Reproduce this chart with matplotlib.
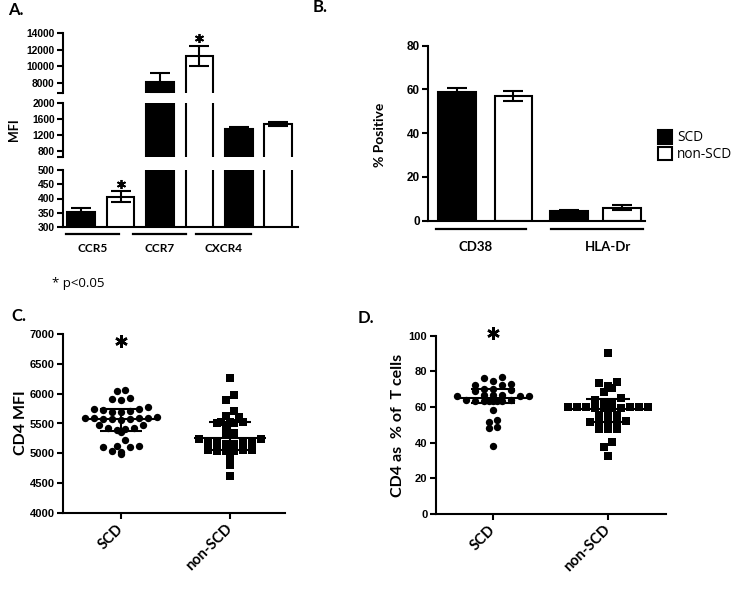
import numpy as np
import matplotlib
matplotlib.use('Agg')
import matplotlib.pyplot as plt
from matplotlib.patches import Patch
import matplotlib.transforms as mtransforms

# ---------------- DATA ----------------
# Panel A (MFI, broken axis)
A_categories = ['CCR5', 'CCR7', 'CXCR4']
A_scd_mean = [351, 8100, 1350]
A_scd_err = [14, 1150, 40]
A_non_mean = [406, 11200, 1470]
A_non_err = [20, 1200, 55]
A_star_bar = [1, 3]            # bar index with significance star
A_star_val = [450, 13400]

# Panel B (% positive)
B_categories = ['CD38', 'HLA-Dr']
B_scd_mean = [58.7, 4.5]
B_scd_err = [2.1, 0.6]
B_non_mean = [57.0, 6.0]
B_non_err = [2.4, 1.0]

# Panel C (CD4 MFI)
C_groups = ['SCD', 'non-SCD']
C_scd = [6060, 6045, 5920, 5895, 5915, 5770, 5745, 5720, 5700, 5690, 5715, 5750,
         5600, 5590, 5575, 5570, 5580, 5585, 5560, 5595, 5610, 5480, 5470,
         5420, 5400, 5395, 5425, 5355, 5220, 5130, 5110, 5100, 5120, 5030, 4995, 5040]
C_non = [6270, 5975, 5890, 5710, 5630, 5615, 5530, 5520, 5510, 5525, 5515, 5440,
         5345, 5335, 5240, 5235, 5175, 5170, 5165, 5160, 5170, 5150,
         5050, 5045, 5040, 5050, 5055, 5045, 4910, 4810, 4625]
C_center = [5570, 5265]
C_low = [5380, 5055]
C_high = [5750, 5530]
C_star = 6880

# Panel D (CD4 as % of T cells)
D_scd = [76.1, 76.7, 74.6, 72.9, 72.3, 72.6, 69.9, 69.2, 69.5, 70.0,
         66.5, 66.3, 66.8, 66.4, 66.6, 66.2, 63.5, 63.8, 63.3, 63.6, 63.4, 63.7,
         63.2, 63.5, 58.3, 52.7, 51.8, 48.6, 48.5, 38.3]
D_non = [90.4, 74.2, 73.3, 71.8, 70.8, 68.5, 64.9, 63.9, 62.2, 62.0,
         60.2, 59.8, 59.5, 60.0, 59.6, 59.9, 59.4, 60.1, 59.7, 59.8,
         55.4, 55.0, 55.6, 51.8, 51.5, 52.0, 51.2, 50.8, 47.6, 47.5, 47.7,
         40.5, 37.8, 32.5]
D_center = [65.2, 58.8]
D_low = [62.1, 51.8]
D_high = [69.9, 64.3]
D_star = 101.5

# ---------------- STYLE ----------------
NUMFONT = ['Liberation Sans Narrow', 'Liberation Sans', 'DejaVu Sans']
LABFONT = ['Lato', 'DejaVu Sans']
plt.rcParams['font.family'] = LABFONT
plt.rcParams['axes.linewidth'] = 1.5

W, H = 740, 589
fig = plt.figure(figsize=(W / 100, H / 100), dpi=100)


def axes_px(x0, y0, x1, y1):
    return fig.add_axes([x0 / W, 1 - y1 / H, (x1 - x0) / W, (y1 - y0) / H])


def style_numticks(ax, size):
    for lab in ax.get_yticklabels():
        lab.set_fontfamily(NUMFONT)
        lab.set_fontweight('bold')
        lab.set_fontsize(size)


# ---------------- PANEL A ----------------
segments = [
    (6800, 14000, [8000, 10000, 12000, 14000], 33, 93),
    (650, 2000, [800, 1200, 1600, 2000], 103, 157),
    (300, 500, [300, 350, 400, 450, 500], 170, 227),
]
nA = len(A_categories)
pos_scd = np.arange(nA) * 2
pos_non = np.arange(nA) * 2 + 1
A_axes = []
for k, (lo, hi, ticks, ytop, ybot) in enumerate(segments):
    ax = axes_px(63, ytop, 298, ybot)
    A_axes.append(ax)
    ax.bar(pos_scd, A_scd_mean, width=0.7, color='black', edgecolor='black', linewidth=1.5)
    ax.bar(pos_non, A_non_mean, width=0.7, facecolor='white', edgecolor='black', linewidth=1.5)
    ax.errorbar(pos_scd, A_scd_mean, yerr=A_scd_err, fmt='none', ecolor='black',
                elinewidth=1.5, capsize=7, capthick=1.5)
    ax.errorbar(pos_non, A_non_mean, yerr=A_non_err, fmt='none', ecolor='black',
                elinewidth=1.5, capsize=7, capthick=1.5)
    ax.plot(A_star_bar, A_star_val, linestyle='none', marker=(6, 2, 0),
            ms=6.5, mew=1.3, color='black')
    ax.set_xlim(-0.46, 5.5)
    ax.set_ylim(lo, hi)
    ax.set_yticks(ticks)
    ax.set_yticklabels([str(t) for t in ticks])
    for s in ['top', 'right']:
        ax.spines[s].set_visible(False)
    if k < 2:
        ax.spines['bottom'].set_visible(False)
        ax.set_yticks([lo], minor=True)
        ax.tick_params(axis='y', which='minor', length=4, width=1.5, direction='out')
    ax.tick_params(axis='x', bottom=False, labelbottom=False)
    ax.tick_params(axis='y', length=4, width=1.5, pad=2)
    style_numticks(ax, 7.4)

axA = A_axes[-1]
trA = mtransforms.blended_transform_factory(axA.transData, axA.transAxes)
A_line_x = [(-0.38, 0.96), (1.32, 2.66), (2.92, 4.31)]
A_label_x = [0.29, 1.99, 3.62]
for (x0, x1), xl, name in zip(A_line_x, A_label_x, A_categories):
    axA.plot([x0, x1], [-0.123, -0.123], color='black', lw=1.6, transform=trA, clip_on=False)
    axA.text(xl, -0.37, name, transform=trA, ha='center', va='center',
             fontsize=8.5, fontweight='bold')
fig.text(14 / W, 1 - 130 / H, 'MFI', rotation=90, ha='center', va='center',
         fontsize=9, fontweight='bold')
fig.text(52 / W, 1 - 283 / H, '* p<0.05', ha='left', va='center', fontsize=9.5,
         family=['Open Sans', 'DejaVu Sans'])

# ---------------- PANEL B ----------------
axB = axes_px(428, 45.7, 645, 220.7)
bpos_scd = np.array([0, 2.08])
bpos_non = np.array([1.05, 3.07])
axB.bar(bpos_scd, B_scd_mean, width=0.7, color='black', edgecolor='black', linewidth=1.5)
axB.bar(bpos_non, B_non_mean, width=0.7, facecolor='white', edgecolor='black', linewidth=1.5)
axB.errorbar(bpos_scd, B_scd_mean, yerr=B_scd_err, fmt='none', ecolor='black',
             elinewidth=1.5, capsize=7, capthick=1.5)
axB.errorbar(bpos_non, B_non_mean, yerr=B_non_err, fmt='none', ecolor='black',
             elinewidth=1.5, capsize=7, capthick=1.5)
axB.set_xlim(-0.54, 3.5)
axB.set_ylim(0, 80)
axB.set_yticks([0, 20, 40, 60, 80])
for s in ['top', 'right']:
    axB.spines[s].set_visible(False)
axB.tick_params(axis='x', bottom=False, labelbottom=False)
axB.tick_params(axis='y', length=4, width=1.5, pad=2)
style_numticks(axB, 8.5)
trB = mtransforms.blended_transform_factory(axB.transData, axB.transAxes)
B_line_x = [(-0.39, 1.28), (1.75, 3.46)]
B_label_x = [0.34, 2.81]
for (x0, x1), xl, name in zip(B_line_x, B_label_x, B_categories):
    axB.plot([x0, x1], [-0.048, -0.048], color='black', lw=1.6, transform=trB, clip_on=False)
    axB.text(xl, -0.15, name, transform=trB, ha='center', va='center',
             fontsize=9.5, fontweight='bold')
fig.text(380 / W, 1 - 135 / H, '% Positive', rotation=90, ha='center', va='center',
         fontsize=10, fontweight='bold')

handles = [Patch(facecolor='black', edgecolor='black', linewidth=1.5),
           Patch(facecolor='white', edgecolor='black', linewidth=1.5)]
fig.legend(handles, ['SCD', 'non-SCD'], loc='upper left',
           bbox_to_anchor=(658 / W, 1 - 130 / H), frameon=False,
           prop={'family': ['Open Sans', 'DejaVu Sans'], 'size': 9.8},
           handlelength=1.0, handleheight=1.15, handletextpad=0.4,
           labelspacing=0.1, borderpad=0, borderaxespad=0)


# ---------------- PANELS C & D ----------------
def row_scatter_x(ax, xc, values, thr_px, step_px):
    """Column-scatter layout: group close values in rows, spread rows symmetrically."""
    vals = np.asarray(values, float)
    n = len(vals)
    ys = ax.transData.transform(np.column_stack([np.full(n, xc), vals]))[:, 1]
    order = np.argsort(-vals, kind='stable')
    rows, cur = [], []
    for i in order:
        if cur and abs(ys[i] - ys[cur[0]]) > thr_px:
            rows.append(cur)
            cur = []
        cur.append(i)
    rows.append(cur)
    offs = np.zeros(n)
    for r in rows:
        m = len(r)
        slots = (np.arange(m) - (m - 1) / 2) * step_px
        slots = sorted(slots, key=lambda v: (abs(v), v))
        r_sorted = sorted(r, key=lambda i: vals[i])
        for i, sl in zip(r_sorted, slots):
            offs[i] = sl
    p0 = ax.transData.transform([[0, 0], [1, 0]])
    return xc + offs / (p0[1, 0] - p0[0, 0])


def dot_panel(ax, xlim, groups, series, markers, center, low, high, star, ylim, yticks):
    ax.set_xlim(*xlim)
    ax.set_ylim(*ylim)
    for j, (vals, mk) in enumerate(zip(series, markers)):
        xc = j + 1
        xs = row_scatter_x(ax, xc, vals, 5.5, 8.9)
        ax.scatter(xs, vals, s=28 if mk == 'o' else 26, marker=mk, color='black',
                   linewidths=0, zorder=3, clip_on=False)
        ax.hlines(center[j], xc - 0.33, xc + 0.33, color='black', lw=1.5, zorder=4)
        ax.hlines([low[j], high[j]], xc - 0.19, xc + 0.19, color='black', lw=1.5, zorder=4)
        ax.vlines(xc, low[j], high[j], color='black', lw=1.5, zorder=4)
    ax.plot([1], [star], linestyle='none', marker=(6, 2, 0), ms=9, mew=1.8,
            color='black', clip_on=False)
    ax.set_yticks(yticks)
    ax.set_xticks([1, 2])
    ax.set_xticklabels(groups, rotation=45, ha='right', va='center',
                       rotation_mode='anchor', fontsize=10.5, fontweight='bold')
    for s in ['top', 'right']:
        ax.spines[s].set_visible(False)
    ax.tick_params(axis='both', length=4, width=1.5)
    ax.tick_params(axis='y', pad=2)
    ax.tick_params(axis='x', pad=6)
    style_numticks(ax, 8)


axC = axes_px(63, 334, 285, 513)
dot_panel(axC, (0.468, 2.505), C_groups, [C_scd, C_non], ['o', 's'], C_center, C_low,
          C_high, C_star, (4000, 7000), list(range(4000, 7001, 500)))
fig.text(21 / W, 1 - 423 / H, 'CD4 MFI', rotation=90, ha='center', va='center',
         fontsize=11.5, fontweight='bold')

axD = axes_px(435.7, 335.7, 666, 514)
dot_panel(axD, (0.502, 2.504), C_groups, [D_scd, D_non], ['o', 's'], D_center, D_low,
          D_high, D_star, (0, 100), [0, 20, 40, 60, 80, 100])
fig.text(398 / W, 1 - 425 / H, 'CD4 as  % of  T cells', rotation=90, ha='center',
         va='center', fontsize=11.5, fontweight='bold')

# ---------------- PANEL LABELS ----------------
for txt, x, y in [('A.', 8, 10), ('B.', 313, 7), ('C.', 11, 316), ('D.', 358, 318)]:
    fig.text(x / W, 1 - y / H, txt, ha='left', va='center', fontsize=12, fontweight='bold')

fig.savefig('out.png', dpi=100)
